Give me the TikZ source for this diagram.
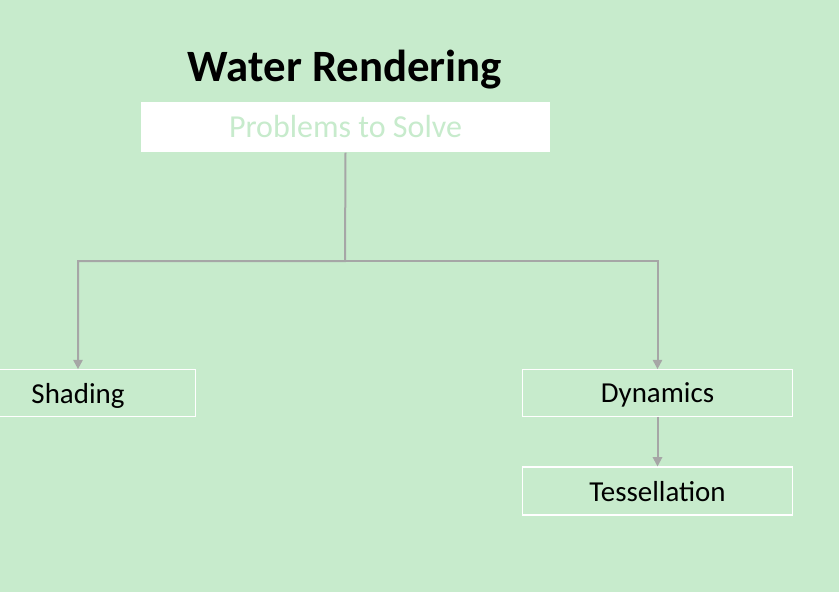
\documentclass[tikz,border=0pt]{standalone}
\usepackage{fontspec}
\setmainfont{Carlito}
\usetikzlibrary{arrows.meta,positioning}
\definecolor{watergreen}{RGB}{199,235,204}
\definecolor{linkgrey}{RGB}{166,166,166}
\tikzset{
    % Top box with the subtitle
    headbox/.style={
        rectangle, fill=white, draw=none,
        minimum width=307pt, minimum height=38pt, inner sep=0pt,
        font=\fontsize{24}{28}\selectfont, text=watergreen
    },
    % Topic boxes (white outline on green)
    topicbox/.style={
        rectangle, draw=white, line width=0.8pt, fill=none,
        minimum width=203pt, minimum height=35pt, inner sep=0pt,
        font=\fontsize{21.7}{26}\selectfont, text depth=0pt
    },
    % Grey connector with a small triangle tip
    link/.style={
        draw=linkgrey, line width=1.5pt,
        -{Triangle[length=7pt,width=7pt]}
    },
}
\begin{document}
\begin{tikzpicture}[x=0.75pt,y=-0.75pt]
      \fill[watergreen] (0,0) rectangle (839,592);
      \useasboundingbox (0,0) rectangle (839,592);
      \node[font=\fontsize{33.6}{40}\selectfont\bfseries] (title) at (345,70) {Water Rendering};
      \node[headbox] (problems) at (345.5,127) {Problems to Solve};
      \node[topicbox,minimum width=176pt] (shading) at (78,393) {Shading};
      \node[topicbox] (dynamics) at (657.5,393) {Dynamics};
      \node[topicbox,minimum height=36pt] (tessellation) at (657.5,491) {Tessellation};
      \coordinate (split) at (345,261);
      \draw[link] (problems.south) -- (split) -| (shading.north);
      \draw[link] (split) -| (dynamics.north);
      \draw[link] (dynamics) -- (tessellation);
    \end{tikzpicture}
\end{document}
